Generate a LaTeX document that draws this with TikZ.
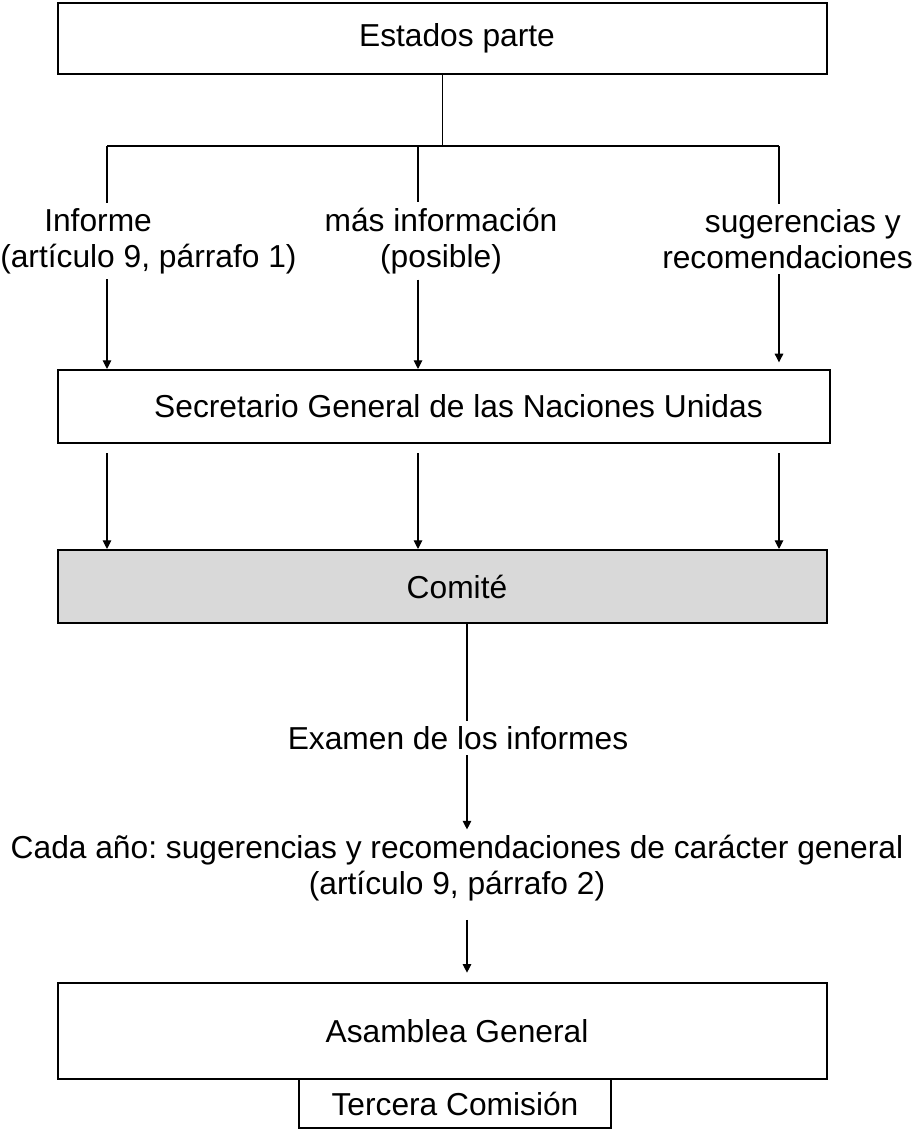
\documentclass[tikz,border=0pt]{standalone}
\usepackage{fontspec}
\setmainfont{Liberation Sans}
\usetikzlibrary{arrows.meta}
\definecolor{ComiteGris}{HTML}{D9D9D9}

\begin{document}
\frenchspacing
\begin{tikzpicture}[x=0.75pt, y=-0.75pt,
        every node/.style={font=\fontsize{23.8}{27}\selectfont},
        caja/.style={draw, line width=1.5pt, inner sep=0pt},
        corrida/.style={execute at begin node={\hspace*{21.75pt}}},
        etiqueta/.style={inner xsep=0pt, inner ysep=4pt},
        linea/.style={line width=1.3pt},
        flecha/.style={line width=0.8pt, -{Triangle[length=6.5pt, width=6.5pt]}}]
                \useasboundingbox (0,0) rectangle (915,1129);

                % Boxes
                \node[caja, corrida, minimum width=576.8pt, minimum height=53.3pt] (ep) at (442.5,38.5) {Estados parte};
                
                \node[caja, corrida, minimum width=579pt, minimum height=54.8pt] (sg) at (444,406.5) {Secretario General de las Naciones Unidas};
                
                \node[caja, corrida, fill=ComiteGris, minimum width=576.8pt, minimum height=54.8pt] (com) at (442.5,586.5) {Comité};
                
                \node[caja, corrida, minimum width=576.8pt, minimum height=72pt] (ag) at (442.5,1031) {Asamblea General};
                
                \node[caja, minimum width=234pt, minimum height=36.75pt] (tc) at (455,1103.5) {Tercera Comisión};
                
                % Labels
                \node[etiqueta, align=left, anchor=west] (inf) at (0,241) {\hspace*{33pt}Informe\\(artículo 9, párrafo 1)};
                \node[etiqueta, align=center] (mas) at (441,241) {más información\\(posible)};
                \node[etiqueta, align=right, anchor=east] (sug) at (913,239) {sugerencias y\hspace*{9pt}\\recomendaciones};
                \node[etiqueta] (ex) at (458,738) {Examen de los informes};
                \node[etiqueta, align=center] (cada) at (457,868) {Cada año: sugerencias y recomendaciones de carácter general\\(artículo 9, párrafo 2)};
                
                % Columns
                \coordinate (c1) at (107,146);
                \coordinate (c2) at (418,146);
                \coordinate (c3) at (779,146);
                \coordinate (m) at (467,0);
                
                % Lines
                \draw[linea] (ep.south) -- (ep.south |- c2);
                \draw[linea] (c1) -- (c3);
                \draw[linea] (c1) -- (c1 |- inf.north);
                \draw[linea] (c2) -- (c2 |- mas.north);
                \draw[linea] (c3) -- (c3 |- sug.north);
                
                % Arrows
                \draw[flecha] (c1 |- inf.south) -- (c1 |- sg.north);
                \draw[flecha] (c2 |- mas.south) -- (c2 |- sg.north);
                \draw[flecha, shorten >=5pt] (c3 |- sug.south) -- (c3 |- sg.north);
                \draw[flecha, shorten <=7pt] (c1 |- sg.south) -- (c1 |- com.north);
                \draw[flecha, shorten <=7pt] (c2 |- sg.south) -- (c2 |- com.north);
                \draw[flecha, shorten <=7pt] (c3 |- sg.south) -- (c3 |- com.north);
                \draw[flecha, -] (m |- com.south) -- (m |- ex.north);
                \draw[flecha] (m |- ex.south) -- (m |- cada.north);
                \draw[flecha, shorten <=10pt, shorten >=7pt] (m |- cada.south) -- (m |- ag.north);
            \end{tikzpicture}
\end{document}
